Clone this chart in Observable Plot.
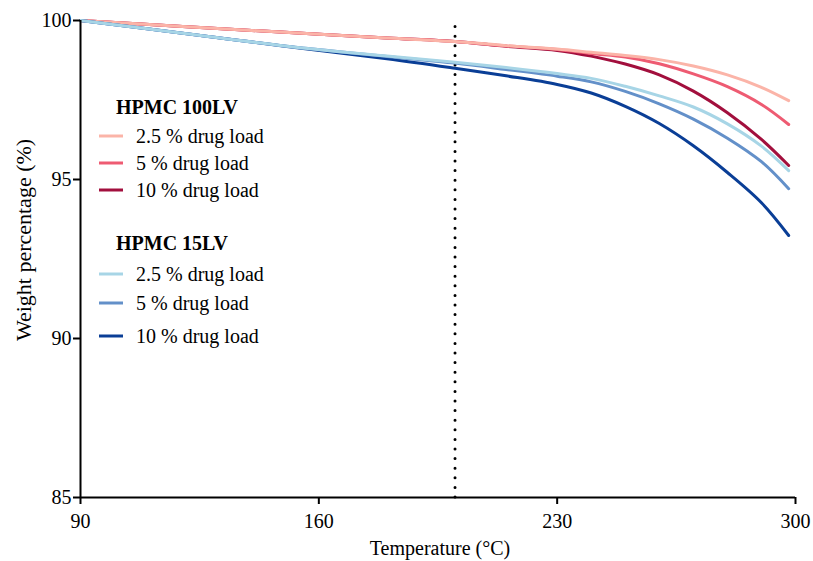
<!DOCTYPE html>
<html><head><meta charset="utf-8">
<script src="https://cdn.jsdelivr.net/npm/d3@7"></script>
<script src="https://cdn.jsdelivr.net/npm/@observablehq/plot@0.6"></script>
<style>body{margin:0;background:#fff} #chart{width:813px;height:561px}</style>
</head><body><div id="chart"></div>
<script>
// Temperature (°C)
const temperature = [90, 120, 150, 180, 200, 215, 230, 240, 250, 260, 270, 280, 290, 298];
// HPMC 100LV weight percentage (%)
const lv100_2_5 = [100, 99.81, 99.63, 99.45, 99.34, 99.21, 99.10, 99.00, 98.90, 98.77, 98.57, 98.29, 97.90, 97.48];
const lv100_5   = [100, 99.81, 99.63, 99.45, 99.34, 99.20, 99.09, 98.96, 98.85, 98.64, 98.32, 97.92, 97.36, 96.73];
const lv100_10  = [100, 99.81, 99.63, 99.45, 99.34, 99.19, 99.06, 98.88, 98.63, 98.29, 97.78, 97.10, 96.26, 95.44];
// HPMC 15LV weight percentage (%)
const lv15_2_5 = [100, 99.60, 99.20, 98.88, 98.69, 98.52, 98.33, 98.18, 97.93, 97.63, 97.28, 96.75, 96.05, 95.28];
const lv15_5   = [100, 99.60, 99.20, 98.87, 98.66, 98.46, 98.25, 98.07, 97.77, 97.38, 96.90, 96.30, 95.56, 94.71];
const lv15_10  = [100, 99.60, 99.19, 98.80, 98.50, 98.26, 97.99, 97.72, 97.30, 96.76, 96.06, 95.22, 94.27, 93.24];

const xTicks = [90, 160, 230, 300];
const yTicks = [85, 90, 95, 100];
const markerTemperature = 200;

const groups = ["HPMC 100LV", "HPMC 15LV"];
const loadLabels = ["2.5 % drug load", "5 % drug load", "10 % drug load"];
const colors100 = ["#fbb4a8", "#ee5b72", "#a20f3d"];
const colors15 = ["#a7d5e6", "#6390c9", "#0a3e96"];

const series = [
  {group: groups[0], label: loadLabels[2], color: colors100[2], values: lv100_10},
  {group: groups[0], label: loadLabels[1], color: colors100[1], values: lv100_5},
  {group: groups[0], label: loadLabels[0], color: colors100[0], values: lv100_2_5},
  {group: groups[1], label: loadLabels[2], color: colors15[2], values: lv15_10},
  {group: groups[1], label: loadLabels[1], color: colors15[1], values: lv15_5},
  {group: groups[1], label: loadLabels[0], color: colors15[0], values: lv15_2_5}
];

const rows = series.flatMap(s => temperature.map((t, i) => ({key: s.group + " " + s.label, color: s.color, t, w: s.values[i]})));

const font = "'Liberation Serif', 'Times New Roman', serif";

const chart = Plot.plot({
  width: 813, height: 561,
  marginLeft: 80, marginRight: 18, marginTop: 20, marginBottom: 64,
  style: {fontFamily: font, fontSize: "20px", background: "#fff", color: "#000", overflow: "visible"},
  x: {domain: [90, 300]},
  y: {domain: [85, 100]},
  marks: [
    Plot.ruleX([markerTemperature], {y1: 85, y2: 100, stroke: "#000", strokeWidth: 3, strokeDasharray: "0,9.6", strokeLinecap: "round"}),
    Plot.line(rows, {x: "t", y: "w", z: "key", stroke: "color", strokeWidth: 3, curve: "catmull-rom"}),
    Plot.axisX({ticks: xTicks, tickSize: 7, tickPadding: 9, strokeWidth: 2, fontSize: 20, label: null, tickFormat: d => String(d)}),
    Plot.axisY({ticks: yTicks, tickSize: 7, tickPadding: 2, strokeWidth: 2, fontSize: 20, label: null, tickFormat: d => String(d)}),
    Plot.ruleX([90], {y1: 85, y2: 100, stroke: "#000", strokeWidth: 2}),
    Plot.ruleY([85], {x1: 90, x2: 300, stroke: "#000", strokeWidth: 2})
  ]
});
document.getElementById("chart").appendChild(chart);

const svg = d3.select(chart);
svg.append("text").attr("x", 440).attr("y", 555).attr("text-anchor", "middle")
  .attr("font-family", font).attr("font-size", 20).attr("fill", "#000").text("Temperature (°C)");
svg.append("text").attr("transform", "translate(31,240) rotate(-90)").attr("text-anchor", "middle")
  .attr("font-family", font).attr("font-size", 22).attr("fill", "#000").text("Weight percentage (%)");

const legend = svg.append("g").attr("font-family", font).attr("font-size", 20).attr("fill", "#000").attr("text-anchor", "start");
const legendGroups = [
  {title: groups[0], colors: colors100, top: 114, rows: [136, 163, 190]},
  {title: groups[1], colors: colors15, top: 250, rows: [274, 303, 336]}
];
legendGroups.forEach(g => {
  legend.append("text").attr("x", 116).attr("y", g.top).attr("font-weight", "bold").attr("text-anchor", "start").text(g.title);
  g.rows.forEach((yy, i) => {
    legend.append("line").attr("x1", 99).attr("x2", 123).attr("y1", yy).attr("y2", yy)
      .attr("stroke", g.colors[i]).attr("stroke-width", 3);
    legend.append("text").attr("x", 136).attr("y", yy + 7).attr("text-anchor", "start").text(loadLabels[i]);
  });
});
</script>
</body></html>
